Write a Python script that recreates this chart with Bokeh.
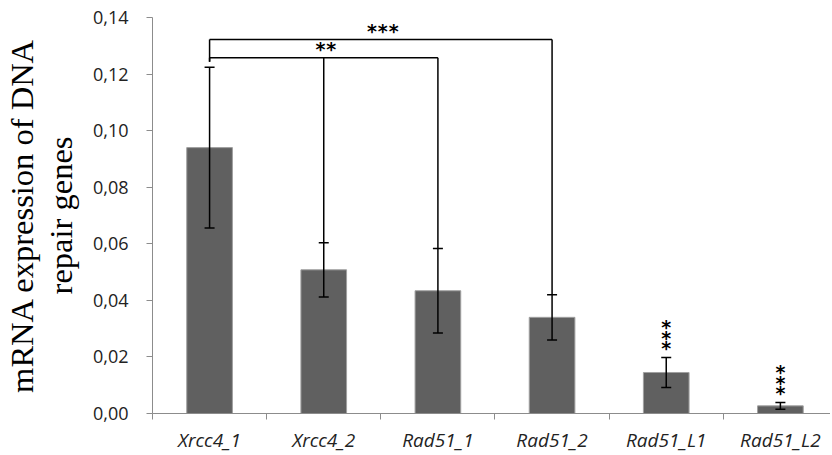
from bokeh.plotting import figure
from bokeh.models import (Range1d, LinearAxis, FixedTicker, CustomJSTickFormatter,
                          Whisker, ColumnDataSource, TeeHead)
from bokeh.core.properties import value
from bokeh.embed import file_html
from bokeh.resources import INLINE

# ---- data ----
genes = ["Xrcc4_1", "Xrcc4_2", "Rad51_1", "Rad51_2", "Rad51_L1", "Rad51_L2"]
means = [0.0940, 0.0508, 0.0434, 0.0340, 0.0145, 0.0027]
errs = [0.0284, 0.0096, 0.0149, 0.0080, 0.0053, 0.0012]
y_ticks = [0.00, 0.02, 0.04, 0.06, 0.08, 0.10, 0.12, 0.14]
# comparisons: (reference index, [compared indices], label)
comparisons = [(0, [1, 2], "**"), (0, [3], "***")]
star_marked = [(4, "***"), (5, "***")]

# ---- layout constants ----
CAT_PX = 114.5
LEFT = 150
TOP = 17
BOTTOM = 42
W = 830
H = 455
frame_w = W - LEFT
x_end = frame_w / CAT_PX
bracket_levels = [0.1258, 0.1322]
left_leg_bottom = 0.1244
STAR_FONT = value("DejaVu Sans")
STAR_GAP = 10.8

xs = [i + 0.5 for i in range(len(genes))]
upper = [m + e for m, e in zip(means, errs)]
lower = [m - e for m, e in zip(means, errs)]
src = ColumnDataSource(dict(x=xs, top=means, upper=upper, lower=lower))

p = figure(width=W, height=H, output_backend="svg", toolbar_location=None,
           x_range=Range1d(0, x_end), y_range=Range1d(0, 0.14),
           min_border_left=LEFT, min_border_right=0, min_border_top=TOP,
           min_border_bottom=BOTTOM, y_axis_location=None, x_axis_location=None)
p.outline_line_color = None
p.grid.visible = False
p.background_fill_color = "white"
p.border_fill_color = "white"

p.vbar(x="x", top="top", width=0.4, bottom=0, source=src,
       fill_color="#606060", line_color="#a0a0a0", line_width=1)

w = Whisker(source=src, base="x", upper="upper", lower="lower", level="overlay",
            line_color="black", line_width=1.5,
            upper_head=TeeHead(size=10, line_color="black", line_width=1.5),
            lower_head=TeeHead(size=10, line_color="black", line_width=1.5))
p.add_layout(w)

# brackets
for (ref, targets, lab), lev in zip(comparisons, bracket_levels):
    xr = xs[ref]
    xt = [xs[t] for t in targets]
    p.line([xr, max(xt)], [lev, lev], line_color="black", line_width=1.5)
    p.line([xr, xr], [left_leg_bottom, lev], line_color="black", line_width=1.5)
    for t in targets:
        p.line([xs[t], xs[t]], [upper[t], lev], line_color="black", line_width=1.5)
    cx = (xr + max(xt)) / 2 if len(targets) == 1 else xs[targets[0]]
    n = len(lab)
    for k in range(n):
        p.text(x=[cx], y=[lev], text=["*"], x_offset=(k - (n - 1) / 2) * STAR_GAP + 2,
               y_offset=-9, text_align="center", text_baseline="middle",
               text_font=STAR_FONT, text_font_size="19px", text_font_style="bold",
               text_color="black")

for idx, lab in star_marked:
    for k in range(len(lab)):
        p.text(x=[xs[idx]], y=[upper[idx]], text=["*"], x_offset=0,
               y_offset=-(9 + STAR_GAP * k), text_align="center", text_baseline="middle",
               text_font=STAR_FONT, text_font_size="19px", text_font_style="bold",
               text_color="black")

# y axis with ticks and second label line
yax = LinearAxis(ticker=FixedTicker(ticks=y_ticks),
                 formatter=CustomJSTickFormatter(code="return tick.toFixed(2).replace('.', ',');"),
                 axis_label="repair genes")
yax.axis_line_color = "#8c8c8c"
yax.major_tick_line_color = "#8c8c8c"
yax.major_tick_out = 6
yax.major_tick_in = 0
yax.minor_tick_line_color = None
yax.major_label_text_font = "Open Sans"
yax.major_label_text_font_size = "18px"
yax.major_label_text_color = "#222222"
yax.major_label_standoff = 18
yax.axis_label_text_font = "Liberation Serif"
yax.axis_label_text_font_size = "32.5px"
yax.axis_label_text_font_style = "normal"
yax.axis_label_text_color = "black"
yax.axis_label_standoff = 11
p.add_layout(yax, "left")

yax2 = LinearAxis(ticker=FixedTicker(ticks=[]), axis_label="mRNA expression of DNA")
yax2.axis_line_color = None
yax2.major_tick_line_color = None
yax2.minor_tick_line_color = None
yax2.axis_label_text_font = "Liberation Serif"
yax2.axis_label_text_font_size = "32.5px"
yax2.axis_label_text_font_style = "normal"
yax2.axis_label_text_color = "black"
yax2.axis_label_standoff = 0
p.add_layout(yax2, "left")

# x axis: labels at centres, ticks at category boundaries
xax = LinearAxis(ticker=FixedTicker(ticks=xs, minor_ticks=list(range(len(genes) + 1))),
                 major_label_overrides={x: g for x, g in zip(xs, genes)})
xax.axis_line_color = "#8c8c8c"
xax.major_tick_line_color = None
xax.minor_tick_line_color = "#8c8c8c"
xax.minor_tick_out = 6
xax.minor_tick_in = 0
xax.major_label_text_font = "Open Sans"
xax.major_label_text_font_size = "19px"
xax.major_label_text_font_style = "italic"
xax.major_label_text_color = "#222222"
xax.major_label_standoff = 7
p.add_layout(xax, "below")

open("out.html", "w").write(file_html(p, INLINE))
